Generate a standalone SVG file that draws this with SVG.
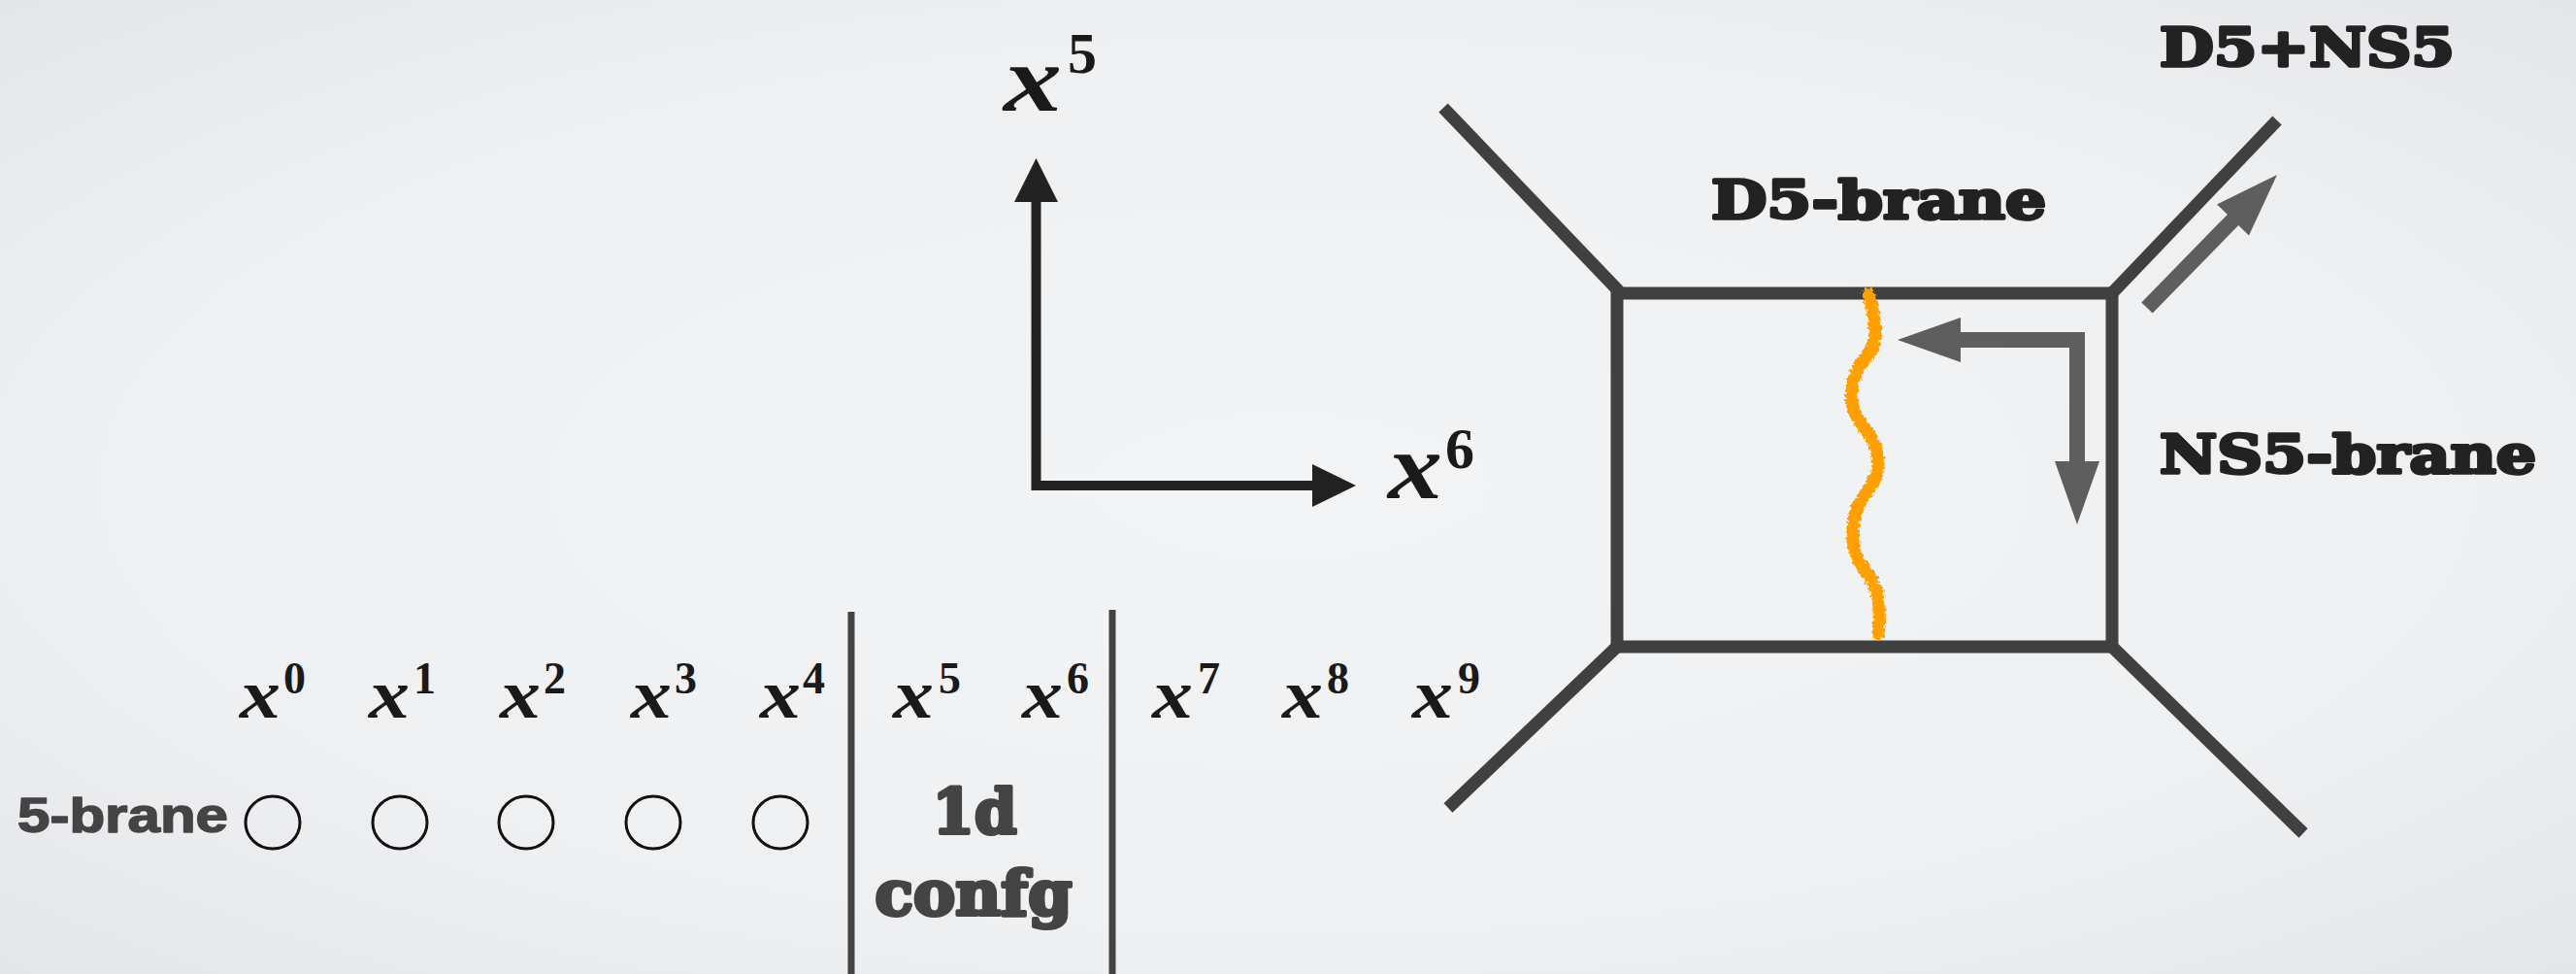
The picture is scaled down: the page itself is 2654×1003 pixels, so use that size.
<svg xmlns="http://www.w3.org/2000/svg" width="2654" height="1003" viewBox="0 0 2654 1003">
  <defs>
    <radialGradient id="bg" cx="50%" cy="50%" r="75%">
      <stop offset="0" stop-color="#f3f4f6"/>
      <stop offset="0.6" stop-color="#eef0f2"/>
      <stop offset="1" stop-color="#e2e4e7"/>
    </radialGradient>
    <filter id="rough" x="-30%" y="-5%" width="160%" height="110%">
      <feTurbulence type="fractalNoise" baseFrequency="0.3" numOctaves="2" seed="3"/>
      <feDisplacementMap in="SourceGraphic" scale="7" xChannelSelector="R" yChannelSelector="G"/>
    </filter>
    <style>
      .math { font-family: "Liberation Serif", "DejaVu Serif", serif; font-style: italic; font-weight: bold; fill: #1a1a1a; }
      .sup { font-family: "Liberation Serif", "DejaVu Serif", serif; font-style: normal; font-weight: bold; fill: #1a1a1a; }
      .tab-x { font-size: 72px; }
      .tab-sup { font-size: 46px; }
      .axis-x { font-size: 98px; }
      .axis-sup { font-size: 60px; }
      .brane { font-family: "DejaVu Serif", "Liberation Serif", serif; font-weight: bold; font-size: 55px; fill: #222222; stroke: #222222; stroke-width: 3.5; stroke-linejoin: round; }
      .cfg { font-family: "DejaVu Serif", "Liberation Serif", serif; font-weight: bold; font-size: 64px; fill: #444444; stroke: #444444; stroke-width: 4; stroke-linejoin: round; }
      .row { font-family: "Liberation Sans", Arial, sans-serif; font-weight: bold; font-size: 50px; fill: #444444; stroke: #444444; stroke-width: 1.5; stroke-linejoin: round; }
      .web { stroke: #404040; stroke-width: 13; fill: none; }
      .axis { stroke: #222222; stroke-width: 10; fill: none; stroke-linejoin: miter; }
      .move { stroke: #5e5e5e; stroke-width: 16; fill: none; stroke-linejoin: miter; }
      .sep { stroke: #444444; stroke-width: 7; }
      .slot { fill: none; stroke: #111111; stroke-width: 3; }
    </style>
  </defs>

  <!-- background -->
  <rect x="0" y="0" width="2654" height="1003" fill="url(#bg)"/>

  <!-- x5 / x6 coordinate axes -->
  <g id="axes">
    <polyline class="axis" points="1067.5,207 1067.5,500 1353,500"/>
    <polygon points="1067.5,163 1045,208 1090,208" fill="#222222"/>
    <polygon points="1397,500 1352,478 1352,522" fill="#222222"/>
    <text class="math axis-x" x="1034" y="114" textLength="60" lengthAdjust="spacingAndGlyphs">x</text>
    <text class="sup axis-sup" x="1100" y="75">5</text>
    <text class="math axis-x" x="1430" y="513" textLength="56" lengthAdjust="spacingAndGlyphs">x</text>
    <text class="sup axis-sup" x="1489" y="482">6</text>
  </g>

  <!-- 5-brane web: box with four external legs -->
  <g id="brane-web">
    <rect class="web" x="1666" y="302" width="510" height="364"/>
    <line class="web" x1="1487" y1="111" x2="1668" y2="300"/>
    <line class="web" x1="2174" y1="304" x2="2346" y2="124"/>
    <line class="web" x1="1668" y1="664" x2="1492" y2="832"/>
    <line class="web" x1="2174" y1="664" x2="2373" y2="858"/>
  </g>

  <!-- string stretched across the box -->
  <g id="string">
    <path d="M1925,303 Q1932,327 1932,342 Q1932,357 1924.5,365 Q1917,373 1912,385 Q1907,397 1907.5,410 Q1908,423 1915.5,433 Q1923,443 1929,453 Q1935,463 1935,476.5 Q1935,490 1927.5,500 Q1920,510 1915,520 Q1910,530 1909,543.5 Q1908,557 1911.5,568.5 Q1915,580 1922.5,588.5 Q1930,597 1933.5,610 Q1937,623 1936,638 L1935,653" fill="none" stroke="#ffa000" stroke-width="13" stroke-linecap="round" stroke-linejoin="round" filter="url(#rough)"/>
  </g>

  <!-- motion arrows -->
  <g id="connectors">
    <polyline class="move" points="2019,350 2140,350 2140,476"/>
    <polygon points="1955,350 2020,327 2020,373" fill="#5e5e5e"/>
    <polygon points="2140,540 2117,475 2163,475" fill="#5e5e5e"/>
    <line class="move" x1="2212" y1="317" x2="2302" y2="225"/>
    <polygon points="2346,180 2284,210.4 2317,242.6" fill="#5e5e5e"/>
  </g>

  <!-- brane labels -->
  <g id="label-d5">
    <text class="brane" x="1763" y="225" textLength="345" lengthAdjust="spacingAndGlyphs">D5-brane</text>
  </g>
  <g id="label-ns5">
    <text class="brane" x="2225" y="487" textLength="388" lengthAdjust="spacingAndGlyphs">NS5-brane</text>
  </g>
  <g id="label-d5ns5">
    <text class="brane" x="2225" y="68" textLength="304" lengthAdjust="spacingAndGlyphs">D5+NS5</text>
  </g>

  <!-- coordinate table -->
  <g id="table">
    <g id="table-head">
      <text class="math tab-x" x="247" y="739" textLength="42" lengthAdjust="spacingAndGlyphs">x</text><text class="sup tab-sup" x="292" y="714">0</text>
      <text class="math tab-x" x="380" y="739" textLength="42" lengthAdjust="spacingAndGlyphs">x</text><text class="sup tab-sup" x="426" y="714">1</text>
      <text class="math tab-x" x="515" y="739" textLength="42" lengthAdjust="spacingAndGlyphs">x</text><text class="sup tab-sup" x="560" y="714">2</text>
      <text class="math tab-x" x="650" y="739" textLength="42" lengthAdjust="spacingAndGlyphs">x</text><text class="sup tab-sup" x="695" y="714">3</text>
      <text class="math tab-x" x="783" y="739" textLength="42" lengthAdjust="spacingAndGlyphs">x</text><text class="sup tab-sup" x="827" y="714">4</text>
      <text class="math tab-x" x="920" y="739" textLength="42" lengthAdjust="spacingAndGlyphs">x</text><text class="sup tab-sup" x="967" y="714">5</text>
      <text class="math tab-x" x="1053" y="739" textLength="42" lengthAdjust="spacingAndGlyphs">x</text><text class="sup tab-sup" x="1099" y="714">6</text>
      <text class="math tab-x" x="1187" y="739" textLength="42" lengthAdjust="spacingAndGlyphs">x</text><text class="sup tab-sup" x="1234" y="714">7</text>
      <text class="math tab-x" x="1321" y="739" textLength="42" lengthAdjust="spacingAndGlyphs">x</text><text class="sup tab-sup" x="1367" y="714">8</text>
      <text class="math tab-x" x="1455" y="739" textLength="42" lengthAdjust="spacingAndGlyphs">x</text><text class="sup tab-sup" x="1502" y="714">9</text>
    </g>
    <g id="table-row">
      <text class="row" x="18" y="857" textLength="217" lengthAdjust="spacingAndGlyphs">5-brane</text>
      <ellipse class="slot" cx="281" cy="847" rx="28" ry="27"/>
      <ellipse class="slot" cx="412" cy="847" rx="28" ry="27"/>
      <ellipse class="slot" cx="542" cy="847" rx="28" ry="27"/>
      <ellipse class="slot" cx="673" cy="847" rx="28" ry="27"/>
      <ellipse class="slot" cx="804" cy="847" rx="28" ry="27"/>
      <text class="cfg" x="1004" y="858" text-anchor="middle" textLength="87" lengthAdjust="spacingAndGlyphs">1d</text>
      <text class="cfg" x="1003" y="942" text-anchor="middle" textLength="203" lengthAdjust="spacingAndGlyphs">confg</text>
    </g>
    <line class="sep" x1="877" y1="630" x2="877" y2="1003"/>
    <line class="sep" x1="1146" y1="628" x2="1146" y2="1003"/>
  </g>
</svg>
